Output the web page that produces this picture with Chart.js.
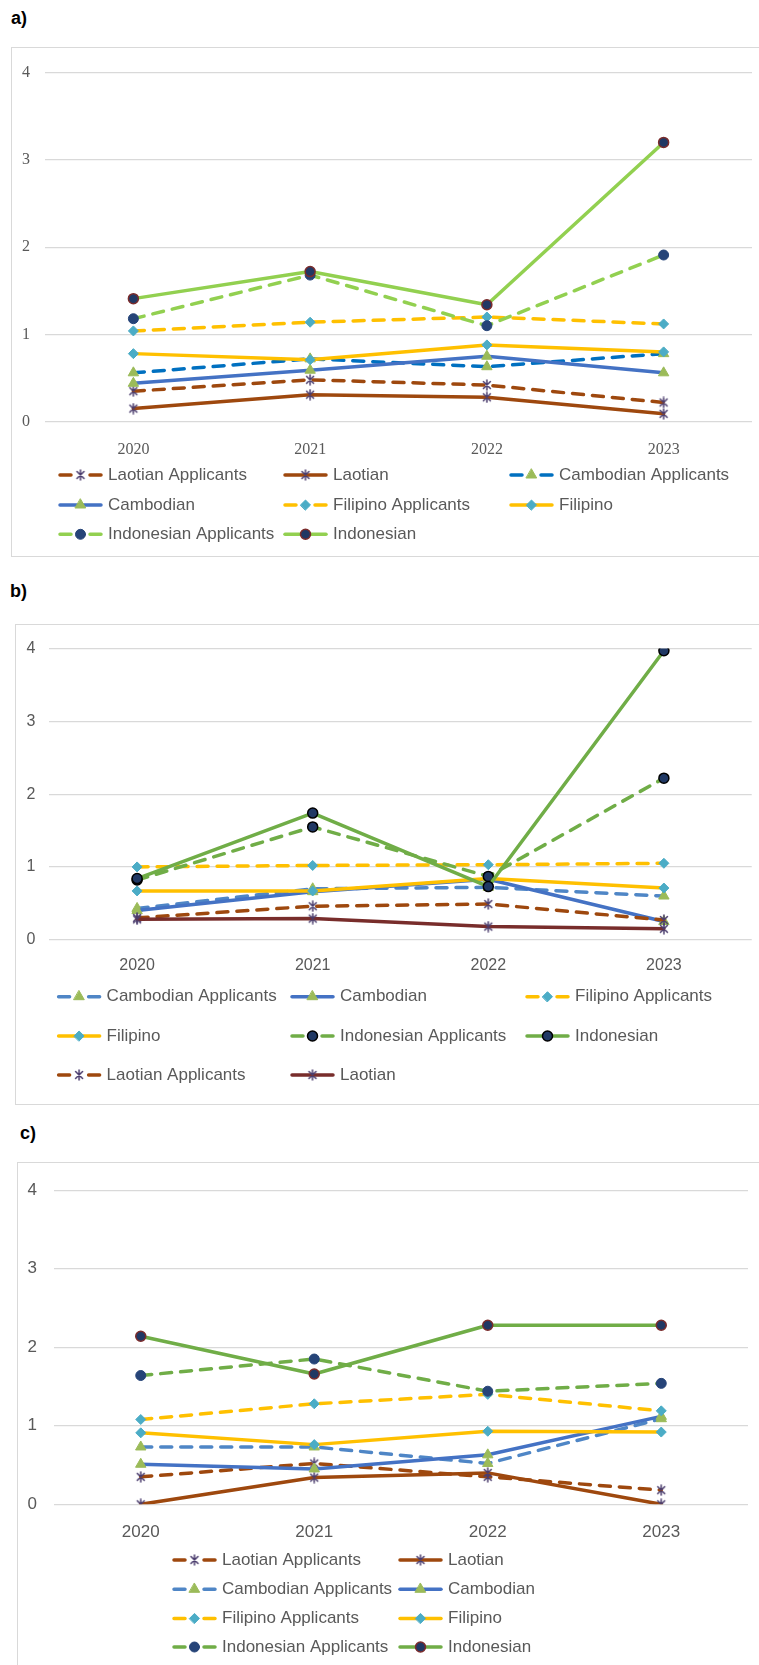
<!DOCTYPE html>
<html>
<head>
<meta charset="utf-8">
<script src="https://cdn.jsdelivr.net/npm/chart.js"></script>
<style>
  html, body { margin: 0; padding: 0; background: #fff; overflow: hidden; }
  body { width: 759px; height: 1665px; position: relative; }
  .tag { position: absolute; font: bold 18px "Liberation Sans", Arial, sans-serif; color: #000; }
  .frame { position: absolute; border: 1px solid #d9d9d9; background: #fff; }
</style>
</head>
<body>
<div class="tag" style="left:11px;top:8px">a)</div>
<div class="frame" style="left:11px;top:47px;width:760px;height:508px"><canvas id="chartA"></canvas></div>

<div class="tag" style="left:10px;top:581px">b)</div>
<div class="frame" style="left:15px;top:624px;width:760px;height:479px"><canvas id="chartB"></canvas></div>

<div class="tag" style="left:20px;top:1123px">c)</div>
<div class="frame" style="left:17px;top:1162px;width:760px;height:510px"><canvas id="chartC"></canvas></div>

<script>
const years = ['2020', '2021', '2022', '2023'];
const yTicks = [0, 1, 2, 3, 4];

// panel a
const aLaotianApplicants = [0.35, 0.48, 0.42, 0.22];
const aLaotian = [0.15, 0.31, 0.28, 0.09];
const aCambodianApplicants = [0.56, 0.72, 0.63, 0.78];
const aCambodian = [0.44, 0.59, 0.75, 0.56];
const aFilipinoApplicants = [1.04, 1.14, 1.20, 1.12];
const aFilipino = [0.78, 0.71, 0.88, 0.80];
const aIndonesianApplicants = [1.18, 1.68, 1.10, 1.91];
const aIndonesian = [1.41, 1.72, 1.34, 3.20];

// panel b
const bCambodianApplicants = [0.43, 0.70, 0.72, 0.60];
const bCambodian = [0.40, 0.66, 0.83, 0.25];
const bFilipinoApplicants = [1.00, 1.02, 1.03, 1.05];
const bFilipino = [0.67, 0.67, 0.84, 0.71];
const bIndonesianApplicants = [0.82, 1.55, 0.87, 2.22];
const bIndonesian = [0.84, 1.74, 0.73, 3.97];
const bLaotianApplicants = [0.30, 0.46, 0.49, 0.27];
const bLaotian = [0.28, 0.29, 0.18, 0.15];

// panel c
const cLaotianApplicants = [0.35, 0.52, 0.35, 0.18];
const cLaotian = [0.00, 0.34, 0.40, 0.00];
const cCambodianApplicants = [0.73, 0.73, 0.52, 1.09];
const cCambodian = [0.51, 0.45, 0.63, 1.12];
const cFilipinoApplicants = [1.08, 1.28, 1.40, 1.19];
const cFilipino = [0.91, 0.76, 0.93, 0.92];
const cIndonesianApplicants = [1.64, 1.85, 1.44, 1.54];
const cIndonesian = [2.14, 1.66, 2.28, 2.28];

// excel style asterisk marker (x with a vertical bar)
function asterisk(color) {
    const c = document.createElement('canvas');
    c.width = 12; c.height = 12;
    const g = c.getContext('2d');
    g.strokeStyle = color; g.lineWidth = 1.5; g.lineCap = 'round';
    g.beginPath();
    g.moveTo(2.5, 2.5); g.lineTo(9.5, 9.5);
    g.moveTo(2.5, 9.5); g.lineTo(9.5, 2.5);
    g.moveTo(6, 1); g.lineTo(6, 11);
    g.stroke();
    return c;
}

// marker styles
const mStar = { pointStyle: asterisk('#4b3d6e'), pointRadius: 5, pointBackgroundColor: '#4b3d6e', pointBorderColor: '#4b3d6e', pointBorderWidth: 1.5 };
const mTri = { pointStyle: 'triangle', pointRadius: 6, pointBackgroundColor: '#9bbb59', pointBorderColor: '#9bbb59', pointBorderWidth: 1 };
const mDiamond = { pointStyle: 'rectRot', pointRadius: 5, pointBackgroundColor: '#4bacc6', pointBorderColor: '#4bacc6', pointBorderWidth: 1 };
const mDotNavy = { pointStyle: 'circle', pointRadius: 5, pointBackgroundColor: '#264478', pointBorderColor: '#264478', pointBorderWidth: 1 };
const mDotRed = { pointStyle: 'circle', pointRadius: 5, pointBackgroundColor: '#203864', pointBorderColor: '#7b2c2c', pointBorderWidth: 1.5 };
const mDotBlack = { pointStyle: 'circle', pointRadius: 5, pointBackgroundColor: '#203864', pointBorderColor: '#000000', pointBorderWidth: 1.5 };

function series(label, data, color, dashed, marker) {
    return Object.assign({
        label: label,
        data: data,
        borderColor: color,
        backgroundColor: color,
        borderWidth: 3.5,
        borderDash: dashed ? [11, 9] : [],
        borderCapStyle: 'round',
        borderJoinStyle: 'round',
        tension: 0,
        fill: false,
        pointHoverRadius: 5
    }, marker);
}

// legend laid out on a fixed grid, like the spreadsheet one
const gridLegend = {
    id: 'gridLegend',
    afterDraw(chart, args, opts) {
        const ctx = chart.ctx;
        ctx.save();
        chart.data.datasets.forEach((ds, i) => {
            const col = i % opts.cols.length;
            const row = Math.floor(i / opts.cols.length);
            const x = opts.cols[col], y = opts.rows[row], len = opts.sample;
            ctx.setLineDash([]);
            ctx.strokeStyle = ds.borderColor;
            ctx.lineWidth = ds.borderWidth;
            ctx.lineCap = 'round';
            ctx.beginPath();
            if (ds.borderDash.length) {
                ctx.moveTo(x + 2, y); ctx.lineTo(x + 13, y);
                ctx.moveTo(x + len - 13, y); ctx.lineTo(x + len - 2, y);
            } else {
                ctx.moveTo(x + 2, y); ctx.lineTo(x + len - 2, y);
            }
            ctx.stroke();
            ctx.fillStyle = ds.pointBackgroundColor;
            ctx.strokeStyle = ds.pointBorderColor;
            ctx.lineWidth = ds.pointBorderWidth;
            Chart.helpers.drawPoint(ctx, { pointStyle: ds.pointStyle, radius: ds.pointRadius, borderWidth: ds.pointBorderWidth, rotation: 0 }, x + len / 2, y);
            ctx.fillStyle = opts.color;
            ctx.font = opts.font;
            ctx.textBaseline = 'middle';
            ctx.textAlign = 'left';
            ctx.fillText(ds.label, x + len + opts.gap, y);
        });
        ctx.restore();
    }
};

function makeChart(id, datasets, p) {
    const n = datasets.length;
    datasets.forEach((d, i) => { d.order = n - i; });
    return new Chart(document.getElementById(id), {
        type: 'line',
        data: { labels: years, datasets: datasets },
        plugins: [gridLegend],
        options: {
            responsive: true,
            maintainAspectRatio: false,
            animation: false,
            events: [],
            layout: { padding: { left: 0, top: p.top, right: p.right, bottom: p.bottom - 20 } },
            scales: {
                x: {
                    type: 'category',
                    offset: true,
                    grid: { display: false },
                    border: { display: false },
                    ticks: { color: '#595959', font: p.tickFont, padding: p.xPad, maxRotation: 0 },
                    afterFit: s => { s.height = 50; }
                },
                y: {
                    min: yTicks[0],
                    max: yTicks[yTicks.length - 1],
                    afterBuildTicks: s => { s.ticks = yTicks.map(v => ({ value: v })); },
                    grid: { color: '#d9d9d9', lineWidth: 1.3, drawTicks: false },
                    border: { display: false },
                    ticks: { color: '#595959', font: p.tickFont, padding: p.yPad },
                    afterFit: s => { s.width = p.yWidth; }
                }
            },
            plugins: {
                legend: { display: false },
                tooltip: { enabled: false },
                gridLegend: {
                    cols: p.cols, rows: p.rows, sample: 45, gap: 5,
                    color: '#595959', font: '17px "Liberation Sans", Arial, sans-serif'
                }
            }
        }
    });
}

makeChart('chartA', [
    series('Laotian Applicants', aLaotianApplicants, '#9e480e', true, mStar),
    series('Laotian', aLaotian, '#9e480e', false, mStar),
    series('Cambodian Applicants', aCambodianApplicants, '#0070c0', true, mTri),
    series('Cambodian', aCambodian, '#4472c4', false, mTri),
    series('Filipino Applicants', aFilipinoApplicants, '#ffc000', true, mDiamond),
    series('Filipino', aFilipino, '#ffc000', false, mDiamond),
    series('Indonesian Applicants', aIndonesianApplicants, '#92d050', true, mDotNavy),
    series('Indonesian', aIndonesian, '#92d050', false, mDotRed)
], {
    top: 19, right: 20, bottom: 104.3, yWidth: 33, yPad: 15, xPad: 10,
    tickFont: { family: '"Liberation Serif", "Times New Roman", serif', size: 16 },
    cols: [46, 271, 497], rows: [427, 457, 486.3]
});

makeChart('chartB', [
    series('Cambodian Applicants', bCambodianApplicants, '#4f86c6', true, mTri),
    series('Cambodian', bCambodian, '#4472c4', false, mTri),
    series('Filipino Applicants', bFilipinoApplicants, '#ffc000', true, mDiamond),
    series('Filipino', bFilipino, '#ffc000', false, mDiamond),
    series('Indonesian Applicants', bIndonesianApplicants, '#70ad47', true, mDotBlack),
    series('Indonesian', bIndonesian, '#70ad47', false, mDotBlack),
    series('Laotian Applicants', bLaotianApplicants, '#9e480e', true, mStar),
    series('Laotian', bLaotian, '#782d2b', false, mStar)
], {
    top: 18.7, right: 24.3, bottom: 134.3, yWidth: 33.3, yPad: 14, xPad: 8,
    tickFont: { family: '"Liberation Sans", Arial, sans-serif', size: 16 },
    cols: [40.6, 274, 509], rows: [371.7, 411, 450]
});

makeChart('chartC', [
    series('Laotian Applicants', cLaotianApplicants, '#9e480e', true, mStar),
    series('Laotian', cLaotian, '#9e480e', false, mStar),
    series('Cambodian Applicants', cCambodianApplicants, '#4f86c6', true, mTri),
    series('Cambodian', cCambodian, '#4472c4', false, mTri),
    series('Filipino Applicants', cFilipinoApplicants, '#ffc000', true, mDiamond),
    series('Filipino', cFilipino, '#ffc000', false, mDiamond),
    series('Indonesian Applicants', cIndonesianApplicants, '#70ad47', true, mDotNavy),
    series('Indonesian', cIndonesian, '#70ad47', false, mDotRed)
], {
    top: 19, right: 30, bottom: 138.7, yWidth: 36, yPad: 17, xPad: 10,
    tickFont: { family: '"Liberation Sans", Arial, sans-serif', size: 17 },
    cols: [154, 380], rows: [397, 426.3, 455.4, 484]
});
</script>
</body>
</html>
